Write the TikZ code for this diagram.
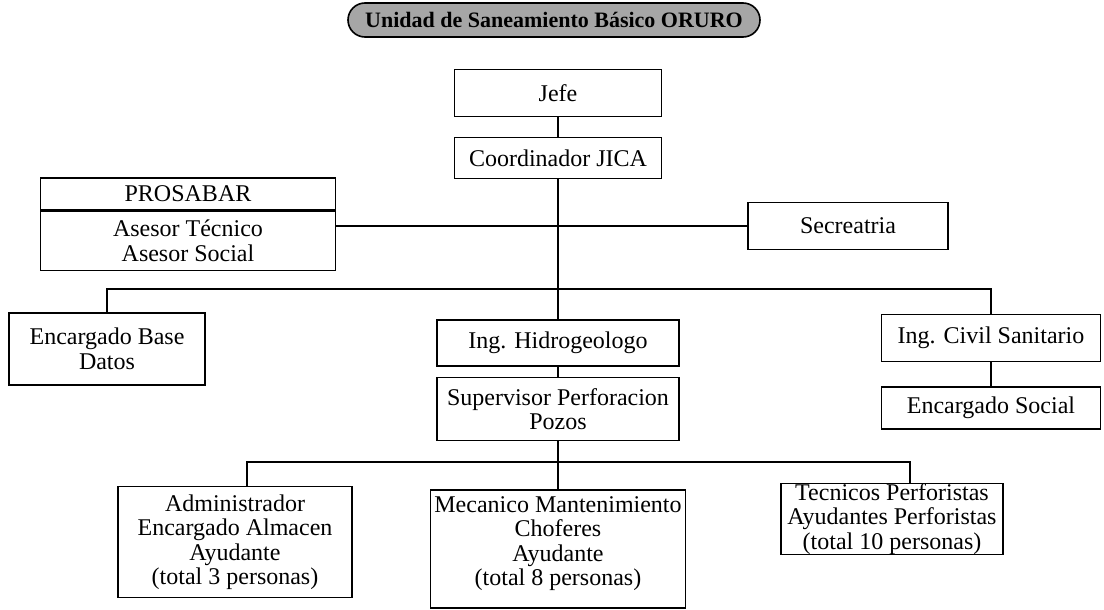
\documentclass[tikz,border=0pt]{standalone}
\usepackage{fontspec}
\setmainfont{Liberation Serif}
\usetikzlibrary{calc}
\usetikzlibrary{positioning}

\tikzset{
  box/.style={draw, black, line width=1.6pt, inner sep=0pt, align=center,
    font=\fontsize{24}{24.5}\selectfont},
  link/.style={black, line width=1.6pt},
}

\begin{document}
\begin{tikzpicture}[x=1pt, y=-1pt]
\useasboundingbox (0,0) rectangle (1104,610);
% title
\node[box, fill=black!35, rounded corners=17pt, minimum width=412pt, minimum height=34pt,
  font=\fontsize{22}{22}\selectfont\bfseries] (title) at (554,20) {Unidad de Saneamiento Básico ORURO};
% upper part
\node[box, minimum width=207pt, minimum height=47pt] (jefe) at (558,93) {Jefe};
\node[box, minimum width=207pt, minimum height=41pt] (coord) at (558,158) {Coordinador JICA};
\node[box, minimum width=295pt, minimum height=59pt] (asesor) at (188,241) {Asesor Técnico\\Asesor Social};
\node[box, minimum width=295pt, minimum height=32pt, above=0pt of asesor] (prosa) {PROSABAR};
\node[box, minimum width=200pt, minimum height=47pt] (secre) at (848,226) {Secreatria};
% middle row
\node[box, minimum width=196pt, minimum height=72pt] (base) at (107,349) {Encargado Base\\Datos};
\node[box, minimum width=242pt, minimum height=46pt] (hidro) at (558,343) {Ing. Hidrogeologo};
\node[box, minimum width=219pt, minimum height=47pt] (civil) at (991,338) {Ing. Civil Sanitario};
\node[box, minimum width=219pt, minimum height=42pt] (social) at (991,408) {Encargado Social};
\node[box, minimum width=242pt, minimum height=63pt] (super) at (558,409) {Supervisor Perforacion\\Pozos};
% bottom row
\node[box, minimum width=234pt, minimum height=111pt] (admin) at (235,542) {Administrador\\Encargado Almacen\\Ayudante\\(total 3 personas)};
\node[box, minimum width=255pt, minimum height=118pt] (meca) at (558,549) {Mecanico Mantenimiento\\Choferes\\Ayudante\\(total 8 personas)\rule[-16pt]{0pt}{16pt}};
\node[box, minimum width=222pt, minimum height=71pt] (tecn) at (892,519) {Tecnicos Perforistas\\Ayudantes Perforistas\\(total 10 personas)};

\coordinate (bus) at (558,289);
\coordinate (bus2) at (558,462);

\draw[link] (jefe) -- (coord);
\draw[link] (coord.south) -- (hidro.north);
\draw[link] (asesor.east |- secre.west) -- (secre.west);
\draw[link] (base.north) |- (bus) -| (civil.north);
\draw[link] (civil) -- (social);
\draw[link] (hidro) -- (super);
\draw[link] ([xshift=12pt]admin.north) |- (bus2) -| ([xshift=18pt]tecn.north);
\draw[link] (super) -- (meca);
\end{tikzpicture}
\end{document}
